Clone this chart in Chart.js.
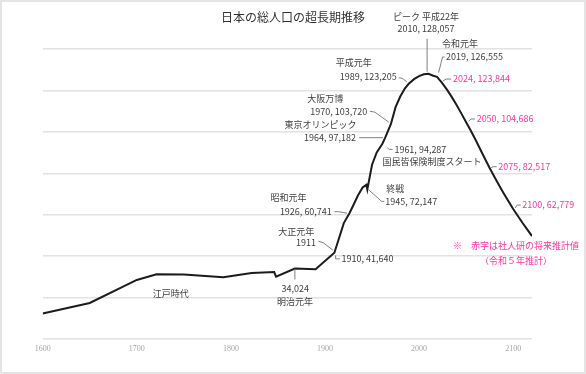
<!DOCTYPE html>
<html>
<head>
<meta charset="utf-8">
<script src="https://cdn.jsdelivr.net/npm/chart.js@4"></script>
<style>
  body { margin: 0; background: #fff; }
  #frame { width: 586px; height: 374px; box-sizing: border-box; border: 2px solid #e4e4e4; position: relative; }
</style>
</head>
<body>
<div id="frame"><canvas id="myChart"></canvas></div>
<script>
const chartTitle = '日本の総人口の超長期推移'
const years = [
  1600, 1650, 1700, 1721, 1750, 1792, 1822, 1846, 1848, 1868,
  1890, 1910, 1920, 1926, 1930, 1935, 1940, 1944, 1945, 1950,
  1955, 1961, 1964, 1970, 1975, 1980, 1985, 1989, 1995, 2000,
  2005, 2010, 2015, 2019, 2024, 2030, 2035, 2040, 2045, 2050,
  2055, 2060, 2065, 2070, 2075, 2080, 2085, 2090, 2095, 2100,
  2110, 2120
];
// thousand persons
const population = [
  12273, 17400, 28500, 31279, 31100, 29870, 31913, 32297, 30100, 34024,
  33700, 41640, 55963, 60741, 64450, 69254, 73114, 74433, 72147, 84115,
  90077, 94287, 97182, 103720, 111940, 117060, 121049, 123205, 125570, 126926,
  127768, 128057, 127095, 126555, 123844, 120116, 116639, 112837, 108801, 104686,
  100508, 96148, 91587, 86996, 82517, 78300, 74200, 70300, 66500, 62779,
  56000, 49700
];
const xTicks = [1600, 1700, 1800, 1900, 2000, 2100];

const gray = '#404040';
const pink = '#ff3399';
const lineFont = '9px "Noto Sans CJK JP", sans-serif';

// text lines: [text, dx, dy, align] relative to the data point
const notes = [
  { year: 2010, lines: [['ピーク 平成22年', -2.6, -57.4, 'center'], ['2010, 128,057', -2.6, -45.1, 'center']],
    leader: [[-1.4, -35], [-1.4, -2]] },
  { year: 2019, lines: [['令和元年', 5.1, -33.2, 'left'], ['2019, 126,555', 9.1, -19.9, 'left']],
    leader: [[1.6, -4.2], [5.6, -19.9], [7.6, -19.9]] },
  { year: 2024, color: pink, lines: [['2024, 123,844', 11.4, -3.4, 'left']],
    leader: [[1.4, -1.5], [4.4, -3.4], [9.4, -3.4]] },
  { year: 2050, color: pink, lines: [['2050, 104,686', 10.5, -3.2, 'left']],
    leader: [[2.5, -1], [5, -3.2], [8.8, -3.2]] },
  { year: 2075, color: pink, lines: [['2075, 82,517', 8.7, -1.4, 'left']],
    leader: [[1.5, -0.3], [3.5, -1.4], [7, -1.4]] },
  { year: 2100, color: pink, lines: [['2100, 62,779', 9.1, -3.9, 'left']],
    leader: [[2, -1], [4, -3.9], [7.5, -3.9]] },
  { year: 1989, lines: [['平成元年', -73, -21.3, 'left'], ['1989, 123,205', -12, -7, 'right']],
    leader: [[-10, -6], [-6.5, -5.5], [-2, -2]] },
  { year: 1970, lines: [['大阪万博', -83.6, -25.5, 'left'], ['1970, 103,720', -23.6, -12.9, 'right']],
    leader: [[-21, -12.9], [-16, -12], [-2, -2]] },
  { year: 1964, lines: [['東京オリンピック', -28.8, -12.9, 'right'], ['1964, 97,182', -29.3, -0.3, 'right']],
    leader: [[-26, 0], [-2.3, 0]] },
  { year: 1961, lines: [['1961, 94,287', 12, 5.7, 'left'], ['国民皆保険制度スタート', 0, 18, 'left']],
    leader: [[4.8, 4], [6.8, 5.7], [10.2, 5.7]] },
  { year: 1945, lines: [['終戦', 19, -0.5, 'left'], ['1945, 72,147', 18, 11.8, 'left']],
    leader: [[1, 0], [14.3, 11.8], [17, 11.8]] },
  { year: 1926, lines: [['昭和元年', -79, -15.7, 'left'], ['1926, 60,741', -17.6, -2.1, 'right']],
    leader: [[-15, -1.5], [-11, -1.5], [-2.5, 0]] },
  { year: 1910, lines: [['大正元年', -56.2, -20.9, 'left'], ['1911', -18.5, -9.9, 'right']],
    leader: [[-16, -11.6], [-11, -9.9], [-1.5, -2.6]] },
  { year: 1910, lines: [['1910, 41,640', 7, 6.1, 'left']],
    leader: [[1.2, 2.7], [1.2, 6.1], [5.5, 6.1]] },
  { year: 1868, lines: [['34,024', 0.3, 20.1, 'center'], ['明治元年', 0, 33.5, 'center']],
    leader: [[0, 0.5], [0, 11]] },
  { year: 1736, value: 22000, lines: [['江戸時代', 0, 0, 'center']] },
  { year: 2103, value: 45000, color: pink,
    lines: [['※　赤字は社人研の将来推計値', 0, 0, 'center'], ['（令和５年推計）', 0, 15, 'center']] }
];

const labelPlugin = {
  id: 'labels',
  afterDatasetsDraw(chart) {
    const { ctx } = chart;
    const x = chart.scales.x, y = chart.scales.y;
    ctx.save();
    ctx.textBaseline = 'middle';
    ctx.font = '12px "Noto Sans CJK JP", sans-serif';
    ctx.fillStyle = '#333';
    ctx.textAlign = 'center';
    ctx.fillText(chartTitle, chart.width / 2, 15.3);

    notes.forEach(n => {
      const v = n.value !== undefined ? n.value : population[years.indexOf(n.year)];
      const px = x.getPixelForValue(n.year);
      const py = y.getPixelForValue(v);
      if (n.leader) {
        ctx.beginPath();
        n.leader.forEach(([dx, dy], i) => {
          if (i === 0) ctx.moveTo(px + dx, py + dy);
          else ctx.lineTo(px + dx, py + dy);
        });
        ctx.strokeStyle = '#7f7f7f';
        ctx.lineWidth = 1;
        ctx.stroke();
      }
      ctx.font = lineFont;
      ctx.fillStyle = n.color || gray;
      n.lines.forEach(([text, dx, dy, align]) => {
        ctx.textAlign = align;
        ctx.fillText(text, px + dx, py + dy);
      });
    });
    ctx.restore();
  }
};

const dataConfig = {
  datasets: [{
    label: '総人口',
    data: years.map((yr, i) => ({ x: yr, y: population[i] })),
    borderColor: '#1c1c1c',
    borderWidth: 2,
    pointRadius: 0,
    tension: 0,
    fill: false
  }]
};

const config = {
  type: 'line',
  data: dataConfig,
  options: {
    responsive: true,
    maintainAspectRatio: false,
    animation: false,
    layout: { padding: { left: 40.7, right: 52, top: 47, bottom: 13.4 } },
    plugins: {
      legend: { display: false },
      title: { display: false },
      tooltip: { enabled: false }
    },
    scales: {
      x: {
        type: 'linear',
        min: 1600,
        max: 2120,
        afterBuildTicks: axis => { axis.ticks = xTicks.map(v => ({ value: v })); },
        ticks: {
          callback: v => String(v),
          color: '#a6a6a6',
          font: { family: '"Liberation Serif", serif', size: 8 },
          padding: 5,
          maxRotation: 0
        },
        grid: { display: false, drawTicks: false },
        border: { display: false }
      },
      y: {
        min: 0,
        max: 140000,
        ticks: { display: false, stepSize: 20000 },
        grid: { color: '#e2e2e2', lineWidth: 1.5, drawTicks: false },
        border: { display: false }
      }
    }
  },
  plugins: [labelPlugin]
};

new Chart(document.getElementById('myChart'), config);
</script>
</body>
</html>
